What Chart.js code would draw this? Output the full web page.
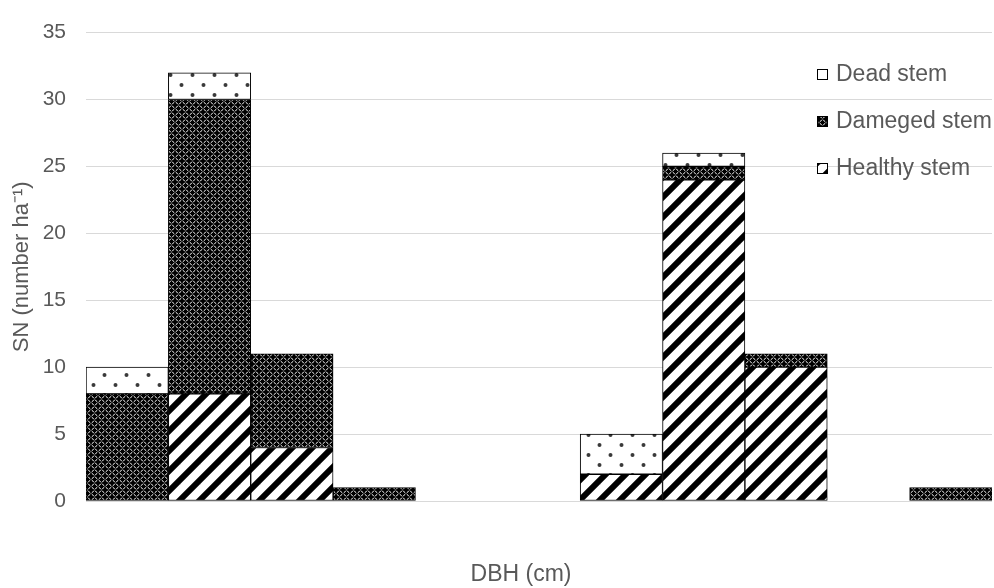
<!DOCTYPE html>
<html lang="en">
<head>
    <meta charset="UTF-8">
    <title>Stem number by DBH class</title>
    <script src="https://cdn.jsdelivr.net/npm/chart.js@4"></script>
    <style>
        body {
            margin: 0;
            padding: 0;
            background: #ffffff;
        }
        .chart-box {
            width: 994px;
            height: 588px;
            position: relative;
        }
    </style>
</head>
<body>
    <div class="chart-box">
        <canvas id="stemChart"></canvas>
    </div>

    <script>
        // DBH classes (no tick labels shown on the original chart)
        const dbhClasses = ['1', '2', '3', '4', '5', '6', '7', '8', '9', '10', '11'];

        // stem numbers per ha
        const healthyStem = [0, 8, 4, 0, 0, 0, 2, 24, 10, 0, 0];
        const damegedStem = [8, 22, 7, 1, 0, 0, 0, 1, 1, 0, 1];
        const deadStem    = [2, 2, 0, 0, 0, 0, 3, 1, 0, 0, 0];

        const yTicks = [0, 5, 10, 15, 20, 25, 30, 35];

        const textColor = '#595959';
        const fontFamily = "'Liberation Sans', Arial, sans-serif";

        // --- fill patterns ---
        function makeTile(w, h, draw) {
            const c = document.createElement('canvas');
            c.width = w;
            c.height = h;
            draw(c.getContext('2d'));
            return document.createElement('canvas').getContext('2d').createPattern(c, 'repeat');
        }

        const dotPattern = makeTile(22, 20, (g) => {
            g.fillStyle = '#ffffff';
            g.fillRect(0, 0, 22, 20);
            g.fillStyle = '#3a3a3a';
            [[5.5, 5], [16.5, 15]].forEach(([x, y]) => {
                g.beginPath();
                g.arc(x, y, 2, 0, Math.PI * 2);
                g.fill();
            });
        });

        const meshPattern = makeTile(7, 7, (g) => {
            g.fillStyle = '#000000';
            g.fillRect(0, 0, 7, 7);
            g.strokeStyle = '#c4c4c4';
            g.lineWidth = 1;
            g.beginPath();
            g.arc(3.5, 3.5, 2.5, 0, Math.PI * 2);
            g.stroke();
            g.fillStyle = '#000000';
            g.fillRect(3, 1, 1, 5);
            g.fillRect(1, 3, 5, 1);
        });

        const stripePattern = makeTile(20, 20, (g) => {
            g.fillStyle = '#ffffff';
            g.fillRect(0, 0, 20, 20);
            g.strokeStyle = '#000000';
            g.lineWidth = 6;
            g.lineCap = 'square';
            [-20, 0, 20].forEach((k) => {
                g.beginPath();
                g.moveTo(k - 5, 25);
                g.lineTo(k + 25, -5);
                g.stroke();
            });
        });

        // legend drawn inside the plot, top right, like the original
        const legendItems = [
            { text: 'Dead stem', fill: dotPattern, y: 74 },
            { text: 'Dameged stem', fill: meshPattern, y: 121 },
            { text: 'Healthy stem', fill: stripePattern, y: 168 }
        ];

        const insideLegend = {
            id: 'insideLegend',
            afterDraw(chart) {
                const ctx = chart.ctx;
                ctx.save();
                ctx.font = '23px ' + fontFamily;
                ctx.textBaseline = 'middle';
                ctx.textAlign = 'left';
                legendItems.forEach((item) => {
                    ctx.fillStyle = item.fill;
                    ctx.fillRect(817, item.y - 5, 11, 11);
                    ctx.strokeStyle = '#000000';
                    ctx.lineWidth = 1;
                    ctx.strokeRect(817.5, item.y - 4.5, 10, 10);
                    ctx.fillStyle = textColor;
                    ctx.fillText(item.text, 836, item.y + 1);
                });
                // x axis title, placed as in the original
                ctx.textAlign = 'center';
                ctx.fillText('DBH (cm)', 521, 575);
                ctx.restore();
            }
        };

        const ctx = document.getElementById('stemChart').getContext('2d');

        const stemChart = new Chart(ctx, {
            type: 'bar',
            data: {
                labels: dbhClasses,
                datasets: [
                    {
                        label: 'Healthy stem',
                        data: healthyStem,
                        backgroundColor: stripePattern,
                        borderColor: '#000000',
                        borderWidth: 1,
                        borderSkipped: false
                    },
                    {
                        label: 'Dameged stem',
                        data: damegedStem,
                        backgroundColor: meshPattern,
                        borderColor: '#000000',
                        borderWidth: 1,
                        borderSkipped: false
                    },
                    {
                        label: 'Dead stem',
                        data: deadStem,
                        backgroundColor: dotPattern,
                        borderColor: '#000000',
                        borderWidth: 1,
                        borderSkipped: false
                    }
                ]
            },
            options: {
                responsive: true,
                maintainAspectRatio: false,
                animation: false,
                layout: {
                    padding: { top: 18, right: 2, left: 0, bottom: 0 }
                },
                datasets: {
                    bar: {
                        barPercentage: 1,
                        categoryPercentage: 1
                    }
                },
                plugins: {
                    legend: { display: false },
                    tooltip: { enabled: false }
                },
                scales: {
                    x: {
                        stacked: true,
                        grid: { display: false },
                        border: { display: false },
                        ticks: { display: false },
                        title: { display: false },
                        afterFit: (scale) => { scale.height = 87; }
                    },
                    y: {
                        stacked: true,
                        min: 0,
                        max: 35,
                        afterBuildTicks: (scale) => {
                            scale.ticks = yTicks.map((v) => ({ value: v }));
                        },
                        grid: {
                            color: '#d9d9d9',
                            lineWidth: 1,
                            drawTicks: false
                        },
                        border: { display: false },
                        ticks: {
                            color: textColor,
                            padding: 20,
                            font: { family: fontFamily, size: 21 }
                        },
                        title: {
                            display: true,
                            text: 'SN (number ha⁻¹)',
                            color: textColor,
                            font: { family: fontFamily, size: 22 },
                            padding: { top: 9, bottom: 0 }
                        },
                        afterFit: (scale) => { scale.width = 86; }
                    }
                }
            },
            plugins: [insideLegend]
        });
    </script>
</body>
</html>
